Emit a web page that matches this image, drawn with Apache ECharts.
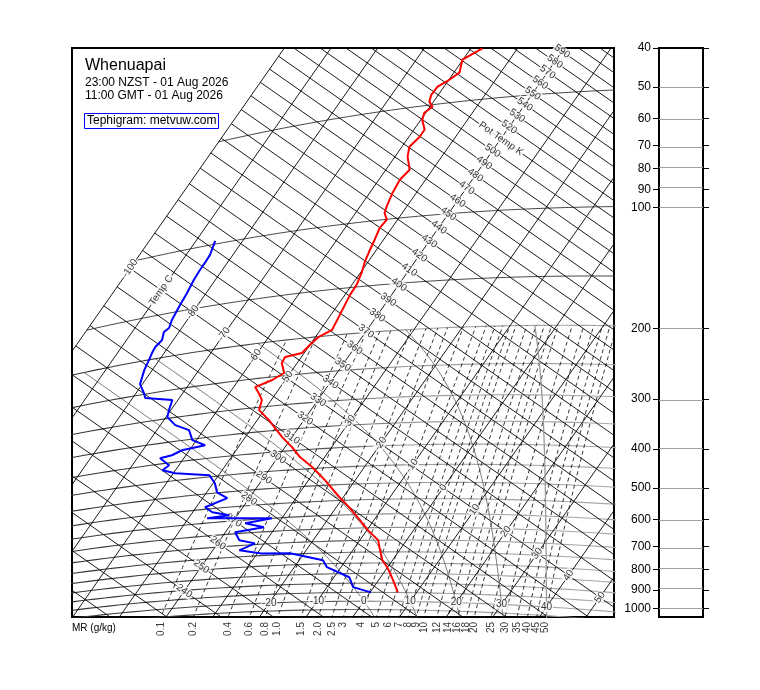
<!DOCTYPE html>
<html>
<head>
<meta charset="utf-8">
<script src="https://cdn.jsdelivr.net/npm/echarts@6.0.0/dist/echarts.min.js"></script>
<style>
html,body{margin:0;padding:0;background:#fff;}
#chart{width:760px;height:690px;}
</style>
</head>
<body>
<div id="chart"></div>
<script>
// ===== Sounding values (pressure hPa, temperature °C) =====
const tempPressure = [36.3,38.4,41.6,43.6,44.7,46.9,48.9,50.6,52.3,54.6,58.3,60.7,64.2,68.3,74.3,78.6,84.9,92.4,95.9,100.3,105.0,112.9,119.8,128.8,136.9,148.0,157.0,166.6,176.8,193.3,200.4,207.2,219.3,222.4,230.6,245.9,255.0,263.6,274.6,287.4,305.5,327.2,366.4,391.4,417.6,445.9,484.6,538.5,573.3,620.5,659.0,699.7,742.0,786.7,820.2,849.1,884.4,950];
const tempValues = [-57.5,-60.1,-58.8,-60.2,-61.4,-61.5,-60.9,-59.5,-60.3,-59.7,-57.7,-57.7,-58.4,-57.3,-54.9,-55.5,-55.1,-54.3,-53.8,-52.3,-52.6,-51.9,-51.4,-50.7,-49.8,-49.0,-48.9,-48.5,-48.1,-47.5,-49.3,-49.9,-50.5,-53.5,-53.3,-51.3,-52.8,-55.4,-53.7,-52.0,-51.1,-47.5,-42.1,-38.5,-35.3,-31.2,-26.5,-20.9,-17.3,-13.0,-9.8,-6.1,-4.2,-2.2,-0.1,1.4,3.1,6.0];
const dewPressure = [97.8,106.8,112.0,116.7,123.9,134.0,144.0,157.6,165.7,169.2,178.0,185.0,191.9,200.4,213.0,222.6,232.7,248.1,256.6,267.4,284.6,297.3,315.4,329.6,352.3,367.5,372.8,381.8,385.4,406.1,416.9,429.3,445.3,470.1,498.1,519.8,543.1,562.6,578.4,582.5,600.3,612.2,632.3,644.4,677.9,695.0,720.7,740.6,746.0,783.3,816.5,868.7,920.9,950];
const dewValues = [-85.9,-84.9,-84.8,-84.8,-84.6,-84.1,-83.8,-83.3,-82.7,-83.2,-82.4,-82.8,-82.6,-82.2,-81.7,-81.1,-80.5,-78.3,-77.3,-71.2,-70.4,-69.7,-66.8,-63.1,-60.9,-57.4,-61.6,-63.0,-65.1,-62.1,-62.8,-59.6,-52.0,-49.6,-47.8,-44.7,-48.1,-45.8,-41.7,-46.0,-32.1,-37.1,-32.5,-37.9,-35.8,-32.0,-34.3,-29.1,-23.0,-14.9,-13.0,-6.7,-4.4,0.2];

// ===== Diagram reference lines & tick labels =====
const isothermValues = [-100,-90,-80,-70,-60,-50,-40,-30,-20,-10,0,10,20,30,40,50];
const adiabatValues = [220,230,240,250,260,270,280,290,300,310,320,330,340,350,360,370,380,390,400,410,420,430,440,450,460,470,480,490,500,510,520,530,540,550,560,570,580,590,600,610];
const isobarsUpper = [50,100,150];
const isobarsLower = [200,250,300,350,400,450,500,550,600,650,700,750,800,850,900,950,1000,1050,1100];
const mixingRatioLabels = ['0.1','0.2','0.4','0.6','0.8','1.0','1.5','2.0','2.5','3','4','5','6','7','8','9','10','12','14','16','18','20','25','30','35','40','45','50'];
const satAdiabatValues = [0,10,20,30,40];
const bottomTempLabels = [-20,-10,0,10,20,30,40];
const tempLabelValues = [-100,-80,-70,-60,-50,-30,-20,-10,0,10,20,30,40,50];
const thetaLabelValues = [240,250,260,270,280,290,300,310,320,330,340,350,360,370,380,390,400,410,420,430,440,450,460,470,480,490,500,520,530,540,550,560,570,580,590];
const pressureTicks = [40,50,60,70,80,90,100,200,300,400,500,600,700,800,900,1000];

// ===== Tephigram projection (T, ln theta rotated) =====
const KAPPA = 0.2857;
const ROT = 35 * Math.PI / 180;
const LN_SCALE = 191.55;          // degC-equivalent per unit ln(theta)
const T_REF = -40, TH_REF = 330;  // origin of the diagram coordinates
const TEMP_LABEL_THETA = 330, THETA_LABEL_T = -40, BOTTOM_LABEL_P = 1000;
const U_MIN = -64.33, U_MAX = 77.41, V_MIN = -56.75, V_MAX = 92.05;
const FONT = 'Liberation Sans';

function proj(T, theta) {
  const X = T - T_REF, Y = LN_SCALE * Math.log(theta / TH_REF);
  return [X * Math.cos(ROT) + Y * Math.sin(ROT), -X * Math.sin(ROT) + Y * Math.cos(ROT)];
}
function thetaOf(T, p) { return (T + 273.15) * Math.pow(1000 / p, KAPPA); }
function tp(T, p) { return proj(T, thetaOf(T, p)); }
function esat(T) { return 6.112 * Math.exp(17.67 * T / (T + 243.5)); }
function dewFromE(e) { const l = Math.log(e / 6.112); return 243.5 * l / (17.67 - l); }
function mrTemp(w, p) { return dewFromE(w * p / (622 + w)); }
function satLapse(T, p) {
  const Tk = T + 273.15, Rd = 287.04, cp = 1005.7, L = 2.501e6, eps = 0.622;
  const es = esat(T), rs = eps * es / (p - es);
  return ((Rd * Tk + L * rs) / p) / (cp + (L * L * rs * eps) / (Rd * Tk * Tk));
}
function satAdiabat(tw) {
  const up = [[tw, 1000]], down = [];
  let T = tw, p = 1000;
  while (p > 200) { const dp = -4; const k1 = satLapse(T, p); const k2 = satLapse(T + k1 * dp / 2, p + dp / 2); T += k2 * dp; p += dp; up.push([T, p]); }
  T = tw; p = 1000;
  while (p < 1160) { const dp = 4; const k1 = satLapse(T, p); const k2 = satLapse(T + k1 * dp / 2, p + dp / 2); T += k2 * dp; p += dp; down.push([T, p]); }
  return down.reverse().concat(up).map(d => tp(d[0], d[1]));
}
function range(a, b, s) { const r = []; for (let x = a; s > 0 ? x <= b + 1e-9 : x >= b - 1e-9; x += s) r.push(x); return r; }

function lineSeries(data, color, width, type, z) {
  return { type: 'line', data, xAxisIndex: 0, yAxisIndex: 0, symbol: 'none', silent: true, animation: false, clip: true, z: z || 2,
    lineStyle: { color, width, type: type || 'solid' } };
}

const isobarGradient = { type: 'linear', x: 72, y: 0, x2: 614, y2: 0, global: true,
  colorStops: [{ offset: 0, color: '#333333' }, { offset: 0.45, color: '#505050' }, { offset: 0.62, color: '#9a9a9a' }, { offset: 1, color: '#a8a8a8' }] };

const series = [];
// isobars
isobarsUpper.forEach(p => series.push(lineSeries(range(-100, 70, 2).map(T => tp(T, p)), '#333', 0.9)));
isobarsLower.forEach(p => series.push(lineSeries(range(-100, 70, 2).map(T => tp(T, p)), isobarGradient, 1.1)));
// isotherms
isothermValues.forEach(T => series.push(lineSeries([proj(T, 150), proj(T, 900)], '#000', 0.9)));
// dry adiabats
adiabatValues.forEach(th => series.push(lineSeries([proj(-100, th), proj(80, th)], '#000', 0.9)));
// mixing ratio lines
mixingRatioLabels.forEach(s => { const w = parseFloat(s);
  series.push(lineSeries(range(1200, 200, -20).map(p => tp(mrTemp(w, p), p)), '#000', 0.8, [4, 3])); });
// saturated adiabats
satAdiabatValues.forEach(tw => series.push(lineSeries(satAdiabat(tw), tw === 40 ? '#9a9a9a' : '#444', tw === 40 ? 1.3 : 0.7)));

// labels
function labelSeries(items, label) {
  return { type: 'scatter', data: items, xAxisIndex: 0, yAxisIndex: 0, symbolSize: 0, silent: true, animation: false, z: 5,
    label: Object.assign({ show: true, position: 'inside', formatter: p => p.name, fontSize: 10, fontFamily: FONT, color: '#000',
      backgroundColor: '#fff', padding: [0, 1] }, label) };
}
series.push(labelSeries(thetaLabelValues.map(th => ({ name: String(th), value: proj(THETA_LABEL_T, th) }))
  .concat([{ name: 'Pot Temp K', value: proj(THETA_LABEL_T, 510) }]), { rotate: -35 }));
series.push(labelSeries(tempLabelValues.map(T => ({ name: String(T), value: proj(T, TEMP_LABEL_THETA) }))
  .concat([{ name: 'Temp C', value: proj(-90, TEMP_LABEL_THETA) }]), { rotate: 55 }));
series.push(labelSeries(bottomTempLabels.map(T => ({ name: String(T), value: tp(T, BOTTOM_LABEL_P) })), { rotate: 0 }));
// mixing ratio labels where each line meets the bottom of the frame
function mrBottom(w) {
  let lo = 600, hi = 1600;
  for (let i = 0; i < 60; i++) { const m = (lo + hi) / 2; const v = tp(mrTemp(w, m), m)[1]; if (v > V_MIN) lo = m; else hi = m; }
  return tp(mrTemp(w, lo), lo);
}
series.push(labelSeries(mixingRatioLabels.map(s => ({ name: s, value: mrBottom(parseFloat(s)) })),
  { position: 'bottom', distance: 5, rotate: 90, align: 'right', verticalAlign: 'middle', backgroundColor: 'transparent', padding: 0 }));

// sounding profiles
series.push(Object.assign(lineSeries(tempPressure.map((p, i) => tp(tempValues[i], p)), '#ff0000', 2), { z: 10 }));
series.push(Object.assign(lineSeries(dewPressure.map((p, i) => tp(dewValues[i], p)), '#0000ff', 2), { z: 10 }));

// right pressure panel
const LOG_MIN = Math.log10(40), LOG_MAX = Math.log10(1050);
const tickLogs = pressureTicks.map(p => Math.log10(p));
series.push({ type: 'line', xAxisIndex: 1, yAxisIndex: 1, data: [[0, LOG_MIN]], symbol: 'none', silent: true, animation: false,
  lineStyle: { opacity: 0 },
  markLine: { silent: true, symbol: 'none', animation: false, label: { show: false },
    lineStyle: { color: '#a0a0a0', width: 1, type: 'solid' }, data: tickLogs.map(v => ({ yAxis: v })) } });

const option = {
  animation: false,
  backgroundColor: '#fff',
  grid: [
    { left: 72, top: 48, width: 542, height: 569, show: true, borderColor: '#000', borderWidth: 2, backgroundColor: 'transparent' },
    { left: 659, top: 48, width: 44, height: 569, show: true, borderColor: '#000', borderWidth: 2, backgroundColor: 'transparent' }
  ],
  xAxis: [
    { gridIndex: 0, type: 'value', min: U_MIN, max: U_MAX, show: false },
    { gridIndex: 1, type: 'value', min: 0, max: 1, show: false }
  ],
  yAxis: [
    { gridIndex: 0, type: 'value', min: V_MIN, max: V_MAX, show: false },
    { gridIndex: 1, type: 'value', min: LOG_MIN, max: LOG_MAX, inverse: true, position: 'left',
      axisLine: { show: false }, splitLine: { show: false },
      axisTick: { show: true, customValues: tickLogs, length: 6, lineStyle: { color: '#000' } },
      axisLabel: { show: true, customValues: tickLogs, margin: 8, fontSize: 12, fontFamily: FONT, color: '#000',
        formatter: v => String(Math.round(Math.pow(10, v))) } },
    { gridIndex: 1, type: 'value', min: LOG_MIN, max: LOG_MAX, inverse: true, position: 'right',
      axisLine: { show: false }, splitLine: { show: false }, axisLabel: { show: false },
      axisTick: { show: true, customValues: tickLogs, length: 6, lineStyle: { color: '#000' } } }
  ],
  graphic: [
    { type: 'text', x: 85, y: 58, z: 20, style: { text: 'Whenuapai', fontSize: 16, fontFamily: FONT, fill: '#000', verticalAlign: 'top' } },
    { type: 'text', x: 85, y: 77, z: 20, style: { text: '23:00 NZST - 01 Aug 2026', fontSize: 12, fontFamily: FONT, fill: '#000', verticalAlign: 'top' } },
    { type: 'text', x: 85, y: 90, z: 20, style: { text: '11:00 GMT - 01 Aug 2026', fontSize: 12, fontFamily: FONT, fill: '#000', verticalAlign: 'top' } },
    { type: 'rect', z: 20, shape: { x: 84.5, y: 113.5, width: 134, height: 15 }, style: { fill: '#fff', stroke: '#0000ff', lineWidth: 1 } },
    { type: 'text', x: 87, y: 115, z: 21, style: { text: 'Tephigram: metvuw.com', fontSize: 12, fontFamily: FONT, fill: '#000', verticalAlign: 'top' } },
    { type: 'text', x: 72, y: 623, z: 20, style: { text: 'MR (g/kg)', fontSize: 10, fontFamily: FONT, fill: '#000', verticalAlign: 'top' } }
  ],
  series
};
const chart = echarts.init(document.getElementById('chart'));
chart.setOption(option);
</script>
</body>
</html>
